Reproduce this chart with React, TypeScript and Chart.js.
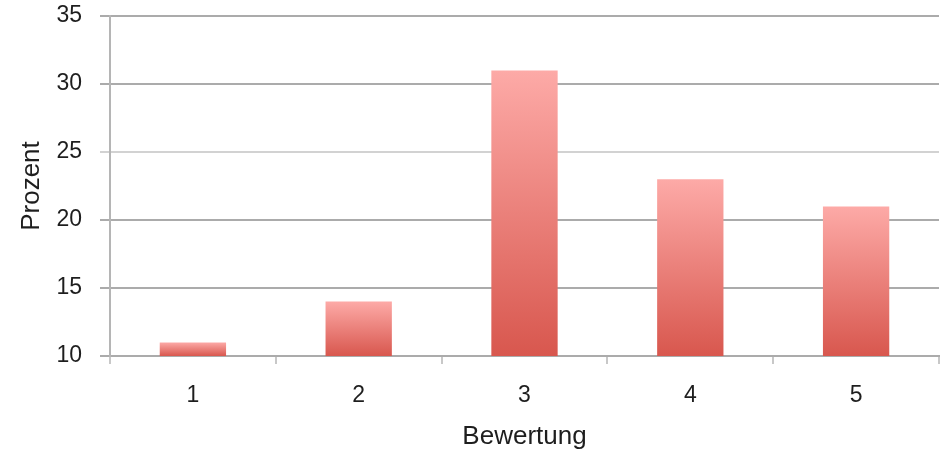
import React, { useEffect, useRef } from "react";
import { Chart, registerables } from "chart.js";

Chart.register(...registerables);

const categories = ["1", "2", "3", "4", "5"];
const percentValues = [11, 14, 31, 23, 21];
const yTicks = [10, 15, 20, 25, 30, 35];
const xTitle = "Bewertung";
const yTitle = "Prozent";

const FONT = "'Liberation Sans', 'DejaVu Sans', sans-serif";
const FS = 23;
const TFS = 26;

export default function App() {
  const ref = useRef<HTMLCanvasElement | null>(null);

  useEffect(() => {
    document.body.style.margin = "0";
    const canvas = ref.current!;
    const chart = new Chart(canvas, {
      type: "bar",
      data: {
        labels: categories,
        datasets: [
          {
            data: percentValues,
            backgroundColor: (ctx: any) => {
              const c = ctx.chart;
              const area = c.chartArea;
              if (!area || ctx.type !== "data") return "#e87a74";
              const ys = c.scales.y;
              const y0 = ys.getPixelForValue(yTicks[0]);
              const y1 = ys.getPixelForValue(ctx.raw);
              const g = c.ctx.createLinearGradient(0, y0, 0, y1);
              g.addColorStop(0, "#d8574e");
              g.addColorStop(1, "#fdaaa7");
              return g;
            },
            borderWidth: 0,
            categoryPercentage: 1,
            barPercentage: 0.4,
          },
        ],
      },
      options: {
        animation: false,
        responsive: false,
        maintainAspectRatio: false,
        layout: { padding: { top: 16, right: 1, left: 0, bottom: 0 } },
        plugins: {
          legend: { display: false },
          tooltip: { enabled: false },
        },
        scales: {
          x: {
            grid: {
              offset: true,
              drawOnChartArea: false,
              drawTicks: true,
              tickLength: 8,
              color: "#c8c8c8",
              lineWidth: 2,
            },
            border: { display: true, color: "#ababab", width: 2 },
            ticks: {
              color: "#1e1e1e",
              font: { family: FONT, size: FS },
              padding: 18,
            },
            title: {
              display: true,
              text: xTitle,
              color: "#1e1e1e",
              font: { family: FONT, size: TFS },
              padding: { top: 0, bottom: 0 },
            },
            afterFit: (s: any) => {
              s.height = 96;
              s.paddingLeft = 0;
              s.paddingRight = 0;
            },
          },
          y: {
            min: yTicks[0],
            max: yTicks[yTicks.length - 1],
            afterBuildTicks: (s: any) => {
              s.ticks = yTicks.map((v) => ({ value: v }));
            },
            grid: {
              color: (ctx: any) =>
                ctx.tick && ctx.tick.value === 25 ? "#d2d2d2" : "#ababab",
              lineWidth: 2,
              tickLength: 10,
              drawTicks: true,
            },
            border: { display: true, color: "#b5b5b5", width: 2 },
            ticks: {
              color: "#1e1e1e",
              font: { family: FONT, size: FS },
              padding: 18,
            },
            title: {
              display: true,
              text: yTitle,
              color: "#1e1e1e",
              font: { family: FONT, size: TFS },
              padding: { top: 16, bottom: 16 },
            },
            afterFit: (s: any) => {
              s.width = 110;
              s.paddingTop = 0;
              s.paddingBottom = 0;
            },
          },
        },
      },
    });
    return () => chart.destroy();
  }, []);

  return (
    <div style={{ position: "absolute", left: 0, top: 0, width: 940, height: 452 }}>
      <canvas ref={ref} width={940} height={452} style={{ width: 940, height: 452 }} />
    </div>
  );
}
